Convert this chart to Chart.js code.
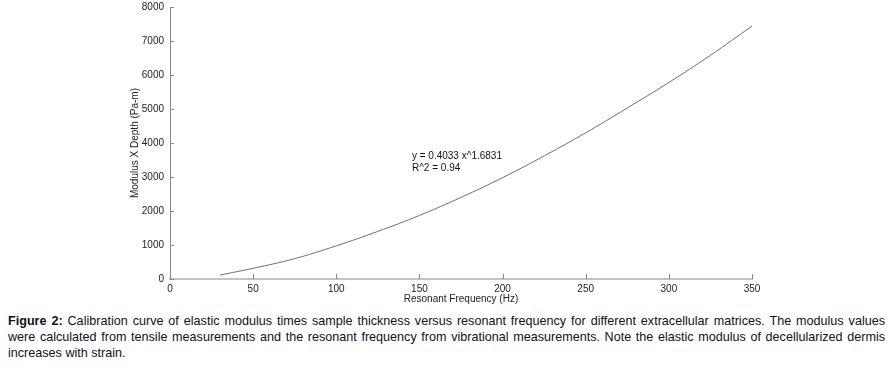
<!DOCTYPE html>
<html>
<head>
<meta charset="utf-8">
<script src="https://cdn.jsdelivr.net/npm/chart.js@4/dist/chart.umd.min.js"></script>
<style>
  html, body { margin: 0; padding: 0; background: #fff; }
  #wrap { position: relative; width: 889px; height: 306px; }
  #cap { position: absolute; left: 8px; top: 313px; width: 877px; font-family: "Liberation Sans", Arial, sans-serif; font-size: 12.6px; line-height: 16px; color: #101018; }
  #cap .j { text-align: justify; text-align-last: justify; white-space: nowrap; }
</style>
</head>
<body>
<div id="wrap"><canvas id="c" width="889" height="306"></canvas></div>
<div id="cap">
  <div class="j"><b>Figure 2:</b> Calibration curve of elastic modulus times sample thickness versus resonant frequency for different extracellular matrices. The modulus values</div>
  <div class="j">were calculated from tensile measurements and the resonant frequency from vibrational measurements. Note the elastic modulus of decellularized dermis</div>
  <div>increases with strain.</div>
</div>
<script>
// Data
const frequencyHz = [30, 50, 75, 100, 125, 150, 175, 200, 225, 250, 275, 300, 325, 350];
const modulusDepth = [115, 315, 600, 975, 1400, 1870, 2400, 2980, 3620, 4300, 5030, 5780, 6580, 7440];
const xTicks = [0, 50, 100, 150, 200, 250, 300, 350];
const yTicks = [0, 1000, 2000, 3000, 4000, 5000, 6000, 7000, 8000];
const fitLines = ["y = 0.4033 x^1.6831", "R^2 = 0.94"];
const fitAnchor = { x: 145.5, y: 3600 };

const FONT = '"Liberation Sans", Arial, sans-serif';

const inwardTicks = {
  id: 'inwardTicks',
  afterDraw(chart) {
    const ctx = chart.ctx, ca = chart.chartArea;
    const xs = chart.scales.x, ys = chart.scales.y;
    ctx.save();
    ctx.strokeStyle = '#8a8a8a';
    ctx.lineWidth = 1;
    ctx.beginPath();
    xTicks.forEach(v => {
      const px = Math.round(xs.getPixelForValue(v)) + 0.5;
      ctx.moveTo(px, ca.bottom); ctx.lineTo(px, ca.bottom - 5);
    });
    yTicks.forEach(v => {
      const py = Math.round(ys.getPixelForValue(v)) + 0.5;
      ctx.moveTo(ca.left, py); ctx.lineTo(ca.left + 4, py);
    });
    ctx.stroke();
    ctx.fillStyle = '#111';
    ctx.font = '10px ' + FONT;
    ctx.textBaseline = 'middle';
    ctx.textAlign = 'left';
    const ax = xs.getPixelForValue(fitAnchor.x), ay = ys.getPixelForValue(fitAnchor.y);
    fitLines.forEach((t, i) => ctx.fillText(t, ax, ay + i * 12));
    ctx.restore();
  }
};

new Chart(document.getElementById('c'), {
  type: 'scatter',
  data: {
    datasets: [{
      data: frequencyHz.map((f, i) => ({ x: f, y: modulusDepth[i] })),
      showLine: true,
      borderColor: '#6e6e6e',
      borderWidth: 1,
      pointRadius: 0,
      tension: 0.4,
      fill: false
    }]
  },
  options: {
    responsive: false,
    animation: false,
    events: [],
    layout: { padding: { left: 129, right: 137, top: 7, bottom: 0 } },
    plugins: { legend: { display: false }, tooltip: { enabled: false } },
    scales: {
      x: {
        type: 'linear', min: 0, max: 350,
        afterBuildTicks(s) { s.ticks = xTicks.map(v => ({ value: v })); },
        afterFit(s) { s.height = 27; s.paddingLeft = 0; s.paddingRight = 0; },
        grid: { display: false, drawTicks: false },
        border: { display: true, color: '#c4c4c4', width: 2 },
        ticks: { padding: 4, color: '#222', font: { family: FONT, size: 10 }, maxRotation: 0, callback: v => String(v) },
        title: { display: true, text: 'Resonant Frequency (Hz)', color: '#222', font: { family: FONT, size: 10 }, padding: { top: 0, bottom: 1 } }
      },
      y: {
        type: 'linear', min: 0, max: 8000,
        afterBuildTicks(s) { s.ticks = yTicks.map(v => ({ value: v })); },
        afterFit(s) { s.width = 41; s.paddingTop = 0; s.paddingBottom = 0; },
        grid: { display: false, drawTicks: false },
        border: { display: true, color: '#8a8a8a', width: 1 },
        ticks: { padding: 6, color: '#222', font: { family: FONT, size: 10 }, callback: v => String(v) },
        title: { display: true, text: 'Modulus X Depth (Pa-m)', color: '#222', font: { family: FONT, size: 10 }, padding: { top: 0, bottom: 0 } }
      }
    }
  },
  plugins: [inwardTicks]
});
</script>
</body>
</html>
